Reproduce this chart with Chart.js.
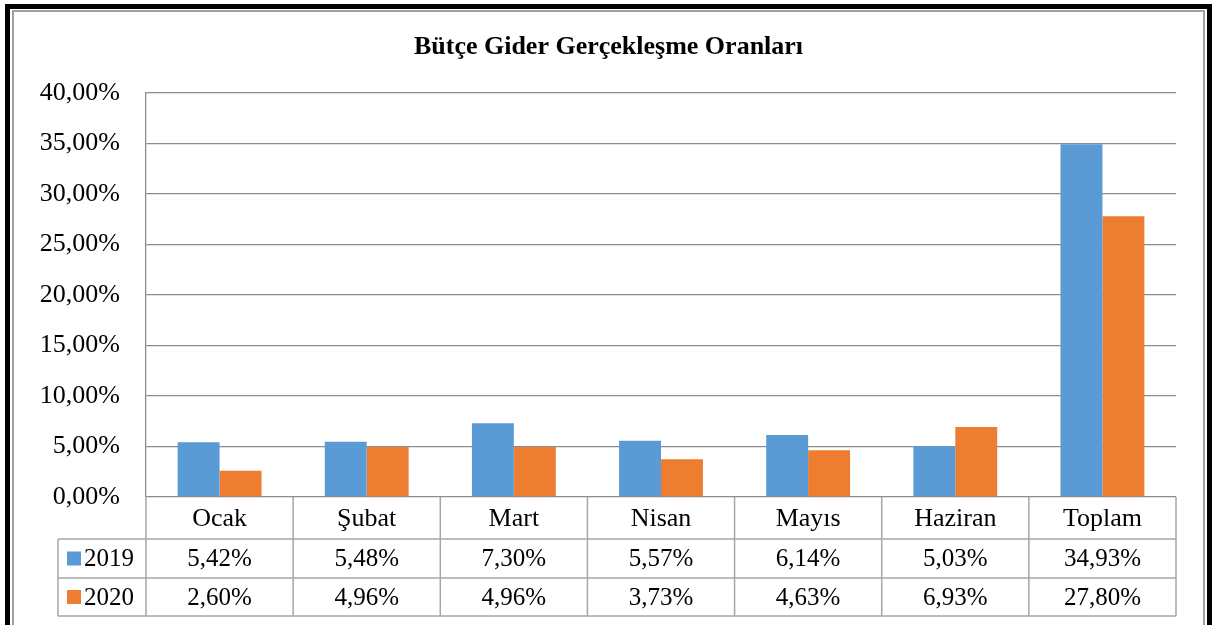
<!DOCTYPE html>
<html>
<head>
<meta charset="utf-8">
<script src="https://cdn.jsdelivr.net/npm/chart.js@4/dist/chart.umd.min.js"></script>
<style>
html,body{margin:0;padding:0;background:#fff;}
canvas{display:block;}
</style>
</head>
<body>
<canvas id="c" width="1214" height="625"></canvas>
<script>
const categories = ['Ocak', 'Şubat', 'Mart', 'Nisan', 'Mayıs', 'Haziran', 'Toplam'];
const seriesNames = ['2019', '2020'];
const values2019 = [5.42, 5.48, 7.30, 5.57, 6.14, 5.03, 34.93];
const values2020 = [2.60, 4.96, 4.96, 3.73, 4.63, 6.93, 27.80];
const yTicks = [0, 5, 10, 15, 20, 25, 30, 35, 40];
const titleText = 'Bütçe Gider Gerçekleşme Oranları';

const BLUE = '#5B9BD5';
const ORANGE = '#ED7D31';
const FONT = "'Liberation Serif', 'Times New Roman', serif";
const fmt = v => v.toFixed(2).replace('.', ',') + '%';

const framePlugin = {
  id: 'frame',
  beforeDraw(chart) {
    const ctx = chart.ctx;
    ctx.save();
    ctx.fillStyle = '#fff';
    ctx.fillRect(0, 0, chart.width, chart.height);
    // outer black frame
    ctx.fillStyle = '#000';
    ctx.fillRect(5, 4, 5, 700);
    ctx.fillRect(5, 4, 1207, 5);
    ctx.fillRect(1207, 4, 5, 700);
    // inner gray frame
    ctx.strokeStyle = '#a0a0a0';
    ctx.lineWidth = 2;
    ctx.strokeRect(13, 11, 1191, 700);
    // title
    ctx.fillStyle = '#000';
    ctx.font = 'bold 26px ' + FONT;
    ctx.textAlign = 'center';
    ctx.textBaseline = 'alphabetic';
    ctx.fillText(titleText, 608.5, 53.5);
    ctx.restore();
  }
};

const tablePlugin = {
  id: 'dataTable',
  afterDraw(chart) {
    const ctx = chart.ctx;
    const xs = chart.scales.x;
    const area = chart.chartArea;
    const n = categories.length;
    const colW = (area.right - area.left) / n;
    const y0 = area.bottom;
    const rows = [y0, y0 + 42, y0 + 81, y0 + 119];
    const legendLeft = 58;
    ctx.save();
    ctx.strokeStyle = '#a6a6a6';
    ctx.lineWidth = 1.5;
    ctx.beginPath();
    for (let r = 1; r < rows.length; r++) {
      ctx.moveTo(legendLeft, rows[r]);
      ctx.lineTo(area.right, rows[r]);
    }
    ctx.moveTo(legendLeft, rows[1]);
    ctx.lineTo(legendLeft, rows[3]);
    for (let i = 0; i <= n; i++) {
      const x = area.left + i * colW;
      ctx.moveTo(x, rows[0]);
      ctx.lineTo(x, rows[3]);
    }
    ctx.stroke();

    ctx.fillStyle = '#000';
    ctx.textAlign = 'center';
    ctx.textBaseline = 'middle';
    const seriesVals = [values2019, values2020];
    categories.forEach((c, i) => {
      const cx = xs.getPixelForValue(i);
      ctx.font = '26px ' + FONT;
      ctx.fillText(c, cx, (rows[0] + rows[1]) / 2 + 1);
      ctx.font = '25px ' + FONT;
      ctx.fillText(fmt(seriesVals[0][i]), cx, (rows[1] + rows[2]) / 2 + 1);
      ctx.fillText(fmt(seriesVals[1][i]), cx, (rows[2] + rows[3]) / 2 + 1);
    });
    const colors = [BLUE, ORANGE];
    ctx.textAlign = 'left';
    ctx.font = '25px ' + FONT;
    for (let s = 0; s < 2; s++) {
      const cy = (rows[s + 1] + rows[s + 2]) / 2;
      ctx.fillStyle = colors[s];
      ctx.fillRect(67, cy - 7, 14, 14);
      ctx.fillStyle = '#000';
      ctx.fillText(seriesNames[s], 84, cy + 1);
    }
    ctx.restore();
  }
};

new Chart(document.getElementById('c'), {
  type: 'bar',
  data: {
    labels: categories,
    datasets: [
      { label: seriesNames[0], data: values2019, backgroundColor: BLUE, borderWidth: 0 },
      { label: seriesNames[1], data: values2020, backgroundColor: ORANGE, borderWidth: 0 }
    ]
  },
  options: {
    responsive: false,
    animation: false,
    devicePixelRatio: 1,
    layout: { padding: { left: 0, right: 38, top: 93, bottom: 128 } },
    datasets: { bar: { categoryPercentage: 0.57, barPercentage: 1 } },
    plugins: {
      legend: { display: false },
      tooltip: { enabled: false },
      title: { display: false }
    },
    scales: {
      x: { display: false },
      y: {
        min: yTicks[0],
        max: yTicks[yTicks.length - 1],
        afterFit(s) { s.width = 146; },
        afterBuildTicks(s) { s.ticks = yTicks.map(v => ({ value: v })); },
        ticks: {
          padding: 26,
          color: '#000',
          font: { family: FONT, size: 26 },
          callback: v => fmt(v)
        },
        grid: { color: '#8c8c8c', lineWidth: 1.3, drawTicks: false },
        border: { color: '#8c8c8c', width: 1.3 }
      }
    }
  },
  plugins: [framePlugin, tablePlugin]
});
</script>
</body>
</html>
